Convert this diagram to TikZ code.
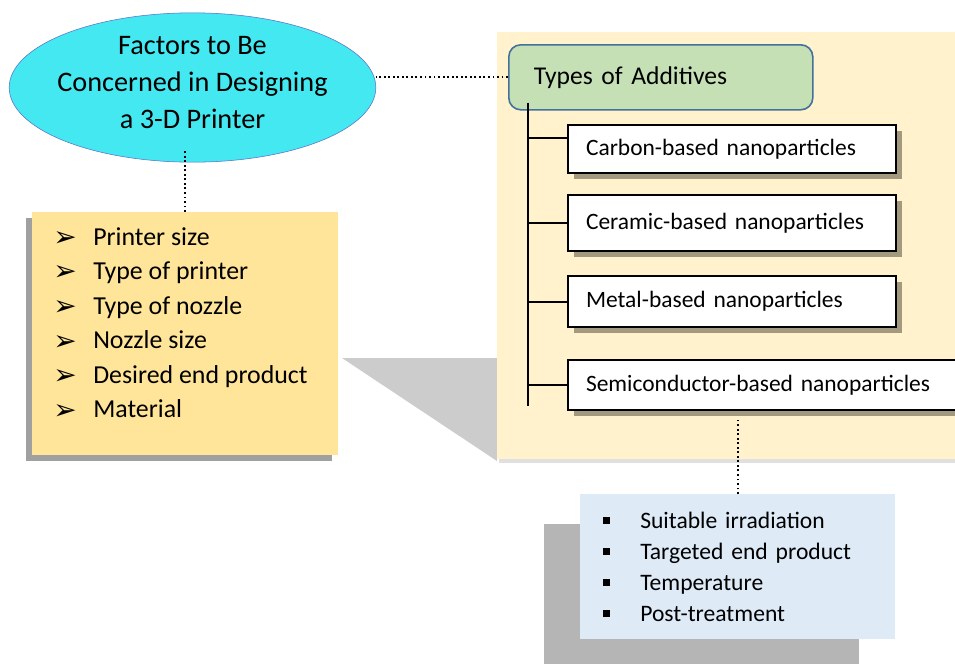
\documentclass[tikz,border=0pt]{standalone}
\usepackage{fontspec}
\setmainfont{Carlito}
\newfontfamily\dingfont{DejaVu Sans}
\definecolor{ovalcyan}{RGB}{67, 232, 240}
\definecolor{ovalblue}{RGB}{91, 110, 200}
\definecolor{factorfill}{RGB}{255, 229, 153}
\definecolor{factorshade}{RGB}{160, 160, 160}
\definecolor{panelfill}{RGB}{255, 242, 204}
\definecolor{panelshade}{RGB}{204, 204, 204}
\definecolor{typefill}{RGB}{197, 224, 180}
\definecolor{typeline}{RGB}{65, 113, 156}
\definecolor{itemshade}{RGB}{152, 144, 118}
\definecolor{propfill}{RGB}{222, 235, 247}
\definecolor{propshade}{RGB}{181, 181, 181}
\usepackage{tikz}
\usetikzlibrary{shapes.geometric, shadows, positioning}
\newcommand{\tipitem}[1]{\makebox[30pt][l]{\raisebox{-1pt}{\dingfont\fontsize{21}{21}\selectfont ➢}}#1}
\newcommand{\sqitem}[1]{\makebox[27.75pt][l]{\rule[3pt]{5.25pt}{5.25pt}}#1}

\begin{document}
\begin{tikzpicture}[
    x=0.75pt, y=-0.75pt,
    oval/.style={ellipse, draw=ovalblue, fill=ovalcyan, minimum width=275pt,
                 minimum height=112pt, align=center, inner xsep=-8pt, inner ysep=-8pt,
                 font=\fontsize{21.2}{27.75}\selectfont},
    factorbox/.style={rectangle, fill=factorfill, minimum width=229.5pt,
                 minimum height=182pt, anchor=north west,
                 drop shadow={shadow xshift=-4.5pt, shadow yshift=-4.5pt,
                              fill=factorshade, opacity=1}},
    listtext/.style={align=left, anchor=north west, inner sep=0pt,
                 font=\fontsize{19.4}{25.9}\selectfont},
    typebox/.style={rectangle, rounded corners=9pt, draw=typeline, line width=1.2pt,
                 fill=typefill, anchor=north west, text width=190.5pt,
                 inner xsep=18.75pt, minimum height=48.75pt, align=left,
                 font=\fontsize{19.2}{23}\selectfont},
    itembox/.style={rectangle, draw=black, line width=1.5pt, fill=white,
                 inner xsep=13.5pt, text width=219pt, align=left,
                 font=\fontsize{17.6}{21}\selectfont,
                 drop shadow={shadow xshift=4.5pt, shadow yshift=-4.5pt,
                              fill=itemshade, opacity=0.9}},
    propbox/.style={rectangle, fill=propfill, text width=201.75pt, inner xsep=17.25pt,
                 minimum height=108.75pt, anchor=north west, align=left,
                 font=\fontsize{17.7}{23.25}\selectfont},
    link/.style={line width=1.4pt, dotted},
    tree/.style={line width=1.5pt}
  ]
    \useasboundingbox (0,0) rectangle (955,664);

    % Shadows behind the panel
    \fill[panelshade] (342,358) -- (497,358) -- (497,461) -- cycle;
    \fill[black!12] (499,35) rectangle (957,463);
    % Additives panel
    \fill[panelfill] (497,32) rectangle (955,459);

    % Factors
    \node[oval] (oval) at (192.5,87.5) {Factors to Be\\Concerned in Designing\\a 3-D Printer\\[-20pt]};
    \node[factorbox] (factors) at (32,212) {};
    \node[listtext] (factorlist) at (53,227) {\tipitem{Printer size}\\\tipitem{Type of printer}\\
        \tipitem{Type of nozzle}\\\tipitem{Nozzle size}\\\tipitem{Desired end product}\\
        \tipitem{Material}};

    % Additives
    \node[typebox] (types) at (508,44) {Types of Additives};
    \coordinate (trunk) at (528,406);
    \node[itembox, minimum height=36pt, anchor=north west] (carbon) at (567,124) {Carbon-based nanoparticles};
    \node[itembox, minimum height=42pt, below=15pt of carbon.south west, anchor=north west] (ceramic) {Ceramic-based nanoparticles};
    \node[itembox, minimum height=38.25pt, below=17.25pt of ceramic.south west, anchor=north west] (metal) {Metal-based nanoparticles};
    \node[itembox, minimum height=37.5pt, text width=264pt, below=23.25pt of metal.south west, anchor=north west] (semi) {Semiconductor-based nanoparticles};

    % Conditions
    \fill[propshade] (544,524) rectangle (859,664);
    \node[propbox] (props) at (580,494) {\sqitem{Suitable irradiation}\\\sqitem{Targeted end product}\\
        \sqitem{Temperature}\\\sqitem{Post-treatment}};

    % Lines
    \draw[link] (types.west) -- (types.west -| oval.east);
    \draw[link] (factors.north) -- ++(0,-63);
    \draw[link] (props.north) -- ++(0,-77);
    \draw[tree] (trunk |- types.south) ++(0,-8) -- (trunk);
    \draw[tree] (trunk |- carbon.west) ++(0,-11) -- ([yshift=8.25pt]carbon.west);
    \foreach \n in {ceramic, metal, semi}
      \draw[tree] (trunk |- \n.west) -- (\n.west);
  \end{tikzpicture}
\end{document}
